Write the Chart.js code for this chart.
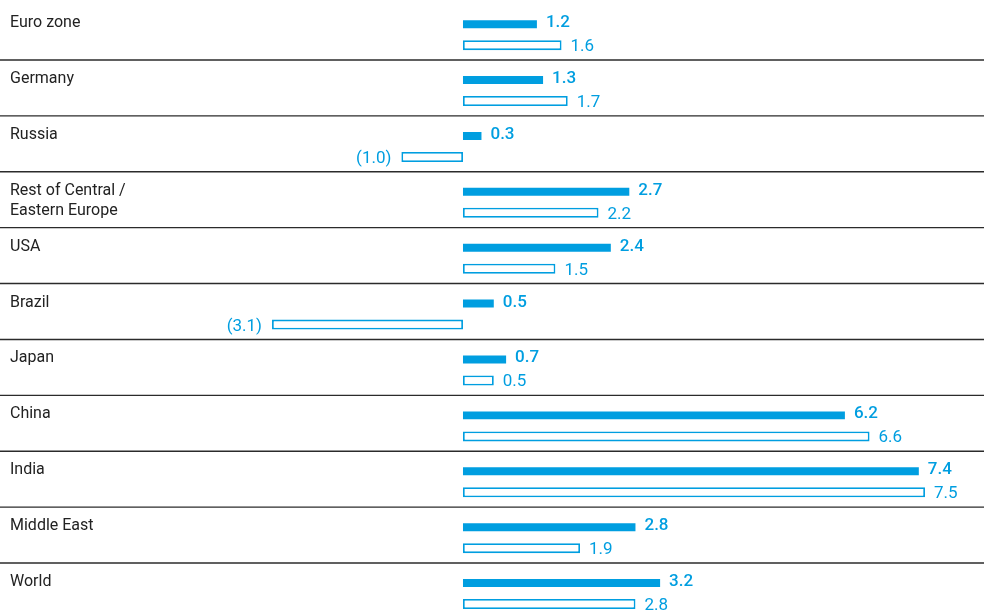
<!DOCTYPE html>
<html>
<head>
<meta charset="utf-8">
<script src="https://cdn.jsdelivr.net/npm/chart.js@4.4.1/dist/chart.umd.min.js"></script>
<style>
  html, body { margin: 0; padding: 0; background: #fff; overflow: hidden; }
  #wrap { width: 984px; height: 622px; }
</style>
</head>
<body>
<div id="wrap"><canvas id="chart"></canvas></div>
<script>
// GDP growth by region, current vs previous year (%)
const categories = ['Euro zone', 'Germany', 'Russia', ['Rest of Central /', 'Eastern Europe'],
  'USA', 'Brazil', 'Japan', 'China', 'India', 'Middle East', 'World'];
const currentValues = [1.2, 1.3, 0.3, 2.7, 2.4, 0.5, 0.7, 6.2, 7.4, 2.8, 3.2];
const previousValues = [1.6, 1.7, -1.0, 2.2, 1.5, -3.1, 0.5, 6.6, 7.5, 1.9, 2.8];

const blue = '#009ee0';

// thin dark rules between the rows, across the whole width
const separators = {
  id: 'separators',
  beforeDatasetsDraw(chart) {
    const y = chart.scales.y;
    const ctx = chart.ctx;
    const band = y.getPixelForValue(1) - y.getPixelForValue(0);
    ctx.save();
    ctx.strokeStyle = '#2b2b2b';
    ctx.lineWidth = 1.4;
    for (let i = 1; i < categories.length; i++) {
      const py = y.getPixelForValue(i) - band / 2 - 2.6;
      ctx.beginPath();
      ctx.moveTo(0, py);
      ctx.lineTo(chart.width, py);
      ctx.stroke();
    }
    ctx.restore();
  }
};

// numbers at the end of each bar, negatives in brackets on the left
const valueLabels = {
  id: 'valueLabels',
  afterDatasetsDraw(chart) {
    const ctx = chart.ctx;
    chart.data.datasets.forEach((ds, di) => {
      const meta = chart.getDatasetMeta(di);
      const filled = di === 0;
      ctx.save();
      ctx.fillStyle = blue;
      ctx.font = (filled ? '500 ' : '') + '17px Roboto';
      ctx.textBaseline = 'alphabetic';
      meta.data.forEach((bar, i) => {
        const v = ds.data[i];
        const y = bar.y + (filled ? 3 : 6);
        if (v < 0) {
          ctx.textAlign = 'right';
          ctx.fillText('(' + Math.abs(v).toFixed(1) + ')', bar.x - 10, y);
        } else {
          ctx.textAlign = 'left';
          ctx.fillText(v.toFixed(1), bar.x + 9, y);
        }
      });
      ctx.restore();
    });
  }
};

new Chart(document.getElementById('chart'), {
  type: 'bar',
  data: {
    labels: categories,
    datasets: [
      {
        label: 'Current year',
        data: currentValues,
        backgroundColor: blue,
        borderWidth: 0,
        categoryPercentage: 0.7515,
        barPercentage: 0.38
      },
      {
        label: 'Previous year',
        data: previousValues,
        backgroundColor: '#ffffff',
        borderColor: blue,
        borderWidth: 1.8,
        borderSkipped: false,
        categoryPercentage: 0.7515,
        barPercentage: 0.476
      }
    ]
  },
  options: {
    indexAxis: 'y',
    responsive: true,
    maintainAspectRatio: false,
    animation: false,
    layout: { padding: { top: 6.7, bottom: 0.5, left: 0, right: 0 } },
    plugins: {
      legend: { display: false },
      tooltip: { enabled: false }
    },
    scales: {
      x: {
        type: 'linear',
        display: false,
        min: -7.516,
        max: 8.458
      },
      y: {
        grid: { display: false, drawTicks: false },
        border: { display: false },
        afterFit: (scale) => {
          // labels sit inside the plot, so the axis takes no room
          scale.width = 0;
          scale.paddingTop = 0;
          scale.paddingBottom = 0;
        },
        ticks: {
          mirror: true,
          padding: 10,
          crossAlign: 'near',
          autoSkip: false,
          labelOffset: -1.5,
          color: '#222222',
          font: { family: 'Roboto', size: 16, lineHeight: 1.25 },
          callback: (value, index) => {
            const l = categories[index];
            return Array.isArray(l) ? l : [l, ''];
          }
        }
      }
    }
  },
  plugins: [separators, valueLabels]
});
</script>
</body>
</html>
